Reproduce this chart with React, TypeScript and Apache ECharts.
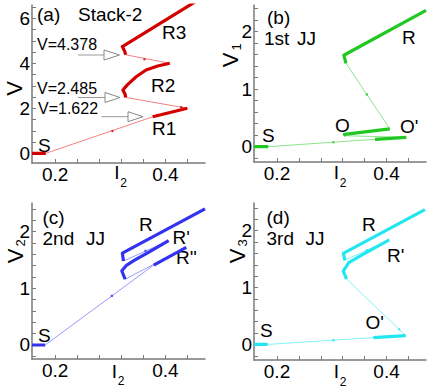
import React, { useEffect, useRef } from "react";
import * as echarts from "echarts";

const FONT = '"Liberation Sans", Arial, Helvetica, sans-serif';

// ---- shared axis data ----
const X_MIN = 0.158;
const X_MAX = 0.472;
const xTicks = [0.2, 0.24, 0.28, 0.32, 0.36, 0.4, 0.44];
const xLabels = [0.2, 0.4];
const aYTicks = [0, 0.5, 1, 1.5, 2, 2.5, 3, 3.5, 4, 4.5, 5, 5.5, 6, 6.5];
const aYLabels = [0, 2, 4, 6];
const jjYTicks = [-0.2, 0, 0.2, 0.4, 0.6, 0.8, 1, 1.2, 1.4, 1.6, 1.8, 2, 2.2, 2.4];
const jjYLabels = [0, 1, 2];

// ---- panel (a): total voltage ----
const aS = [[0.158, 0], [0.183, 0]];
const aR1 = [[0.377, 1.622], [0.44, 2.0]];
const aR2 = [[0.328, 2.485], [0.327, 2.62], [0.323, 2.81], [0.331, 3.04], [0.347, 3.4], [0.365, 3.7], [0.386, 3.88], [0.408, 4.0]];
const aR3 = [[0.328, 4.378], [0.326, 4.55], [0.322, 4.74], [0.472, 7.0]];
const aThin1 = [[0.183, 0], [0.377, 1.622]];
const aThin2 = [[0.44, 2.0], [0.328, 2.485]];
const aThin3 = [[0.408, 4.0], [0.328, 4.378]];
const aDots = [[0.304, 0.99], [0.429, 2.05], [0.362, 4.18]];

// ---- panel (b): 1st JJ ----
const bS = [[0.158, 0], [0.184, 0]];
const bOp = [[0.379, 0.128], [0.436, 0.163]];
const bO = [[0.326, 0.19], [0.323, 0.215], [0.406, 0.31]];
const bR = [[0.326, 1.45], [0.322, 1.59], [0.472, 2.37]];
const bThin1 = [[0.184, 0], [0.379, 0.128]];
const bThin2 = [[0.436, 0.163], [0.326, 0.19]];
const bThin3 = [[0.406, 0.31], [0.326, 1.45]];
const bDots = [[0.303, 0.078], [0.364, 0.91]];

// ---- panel (c): 2nd JJ ----
const cS = [[0.158, 0], [0.182, 0]];
const cRpp = [[0.379, 1.41], [0.438, 1.72]];
const cRp = [[0.327, 1.16], [0.321, 1.31], [0.33, 1.41], [0.345, 1.5], [0.367, 1.62], [0.406, 1.84]];
const cR = [[0.324, 1.48], [0.322, 1.62], [0.472, 2.4]];
const cThin1 = [[0.182, 0], [0.379, 1.41]];
const cThin2 = [[0.438, 1.72], [0.327, 1.16]];
const cThin3 = [[0.406, 1.84], [0.324, 1.48]];
const cDots = [[0.303, 0.866], [0.364, 1.66]];

// ---- panel (d): 3rd JJ ----
const dS = [[0.158, 0], [0.183, 0]];
const dOp = [[0.376, 0.12], [0.435, 0.155]];
const dRp = [[0.327, 1.15], [0.321, 1.29], [0.331, 1.44], [0.356, 1.58], [0.405, 1.84]];
const dR = [[0.324, 1.48], [0.321, 1.6], [0.47, 2.37]];
const dThin1 = [[0.183, 0], [0.376, 0.12]];
const dThin2 = [[0.435, 0.155], [0.327, 1.15]];
const dThin3 = [[0.405, 1.84], [0.324, 1.48]];
const dDots = [[0.303, 0.075], [0.423, 0.266], [0.364, 1.66]];

const COLORS = [
  { thick: "#d40000", thin: "#f27070" },
  { thick: "#22c822", thin: "#80e080" },
  { thick: "#3232f0", thin: "#8c8cff" },
  { thick: "#22e6f0", thin: "#72f0f5" },
];

const PANELS = [
  { thick: [aS, aR1, aR2, aR3], thin: [aThin1, aThin2, aThin3], dots: aDots, y: [-0.43, 6.59], ticks: aYTicks, labels: aYLabels },
  { thick: [bS, bOp, bO, bR], thin: [bThin1, bThin2, bThin3], dots: bDots, y: [-0.266, 2.464], ticks: jjYTicks, labels: jjYLabels },
  { thick: [cS, cRpp, cRp, cR], thin: [cThin1, cThin2, cThin3], dots: cDots, y: [-0.247, 2.504], ticks: jjYTicks, labels: jjYLabels },
  { thick: [dS, dOp, dRp, dR], thin: [dThin1, dThin2, dThin3], dots: dDots, y: [-0.274, 2.487], ticks: jjYTicks, labels: jjYLabels },
];

const GRIDS = [
  { left: 32, top: 5, width: 173, height: 158 },
  { left: 254, top: 5, width: 172, height: 157 },
  { left: 32, top: 203, width: 173, height: 156 },
  { left: 254, top: 203, width: 172, height: 157 },
];

const AXIS_COLOR = "#7a7a7a";

function txt(x: number, y: number, s: string, size = 19, extra: any = {}) {
  return {
    type: "text",
    x,
    y,
    silent: true,
    style: {
      text: s,
      fontSize: size,
      fontFamily: FONT,
      fill: "#000",
      textAlign: extra.align || "left",
      textVerticalAlign: "middle",
    },
  };
}

function rtxt(x: number, y: number, s: string, size: number) {
  return {
    type: "text",
    x,
    y,
    rotation: Math.PI / 2,
    silent: true,
    style: {
      text: s,
      fontSize: size,
      fontFamily: FONT,
      fill: "#000",
      textAlign: "center",
      textVerticalAlign: "middle",
    },
  };
}

function arrow(x1: number, x2: number, x3: number, y: number) {
  return [
    { type: "line", silent: true, shape: { x1, y1: y, x2, y2: y }, style: { stroke: "#999", lineWidth: 1 } },
    {
      type: "polygon",
      silent: true,
      shape: { points: [[x2, y - 5], [x3, y], [x2, y + 5]] },
      style: { fill: "#fff", stroke: "#888", lineWidth: 1 },
    },
  ];
}

export default function App() {
  const ref = useRef<HTMLDivElement>(null);
  useEffect(() => {
    if (!ref.current) return;
    const chart = echarts.init(ref.current, undefined, { renderer: "svg" });

    const xAxis = GRIDS.map((_, i) => ({
      type: "value",
      gridIndex: i,
      min: X_MIN,
      max: X_MAX,
      axisLine: { show: true, onZero: false, lineStyle: { color: AXIS_COLOR, width: 1.5 } },
      axisTick: { show: true, inside: true, length: 4, customValues: xTicks, lineStyle: { color: AXIS_COLOR, width: 1 } },
      axisLabel: {
        show: true,
        customValues: xLabels,
        formatter: (v: number) => v.toFixed(1),
        fontSize: 19,
        fontFamily: FONT,
        color: "#000",
        margin: 2,
      },
      splitLine: { show: false },
    }));

    const yAxis = PANELS.map((p, i) => ({
      type: "value",
      gridIndex: i,
      min: p.y[0],
      max: p.y[1],
      axisLine: { show: true, onZero: false, lineStyle: { color: AXIS_COLOR, width: 1.5 } },
      axisTick: { show: true, inside: true, length: 4, customValues: p.ticks, lineStyle: { color: AXIS_COLOR, width: 1 } },
      axisLabel: {
        show: true,
        customValues: p.labels,
        formatter: (v: number) => String(Math.round(v)),
        fontSize: 19,
        fontFamily: FONT,
        color: "#000",
        margin: 2,
      },
      splitLine: { show: false },
    }));

    const series: any[] = [];
    PANELS.forEach((p, i) => {
      p.thin.forEach((d) =>
        series.push({
          type: "line",
          xAxisIndex: i,
          yAxisIndex: i,
          data: d,
          symbol: "none",
          lineStyle: { color: COLORS[i].thin, width: 0.9 },
          z: 2,
          silent: true,
        })
      );
      p.thick.forEach((d) =>
        series.push({
          type: "line",
          xAxisIndex: i,
          yAxisIndex: i,
          data: d,
          symbol: "none",
          lineStyle: { color: COLORS[i].thick, width: 3.2, cap: "butt", join: "round" },
          z: 3,
          silent: true,
        })
      );
      series.push({
        type: "scatter",
        xAxisIndex: i,
        yAxisIndex: i,
        data: p.dots,
        symbolSize: 2.5,
        itemStyle: { color: COLORS[i].thick },
        z: 4,
        silent: true,
      });
    });

    const graphic: any[] = [
      // panel (a)
      txt(37, 14, "(a)"),
      txt(78, 14, "Stack-2"),
      txt(162, 32, "R3"),
      txt(151, 85, "R2"),
      txt(152, 128, "R1"),
      txt(38, 145, "S"),
      txt(37, 44, "V=4.378", 16),
      txt(37, 88.5, "V=2.485", 16),
      txt(38, 108.5, "V=1.622", 16),
      ...arrow(78, 104, 119.5, 55),
      ...arrow(78, 105, 120, 97.5),
      ...arrow(101.5, 128, 143, 116.7),
      rtxt(14.5, 88.5, "V", 22),
      txt(117, 172.5, "I", 19, { align: "center" }),
      txt(120.3, 183, "2", 12),
      // panel (b)
      txt(267, 17, "(b)"),
      txt(264, 38.5, "1st"),
      txt(297, 38.5, "JJ"),
      txt(402, 37, "R"),
      txt(335, 125, "O"),
      txt(400, 126, "O'"),
      txt(262, 135, "S"),
      rtxt(230, 60, "V", 22),
      rtxt(236, 47, "1", 13),
      txt(336.5, 172.5, "I", 19, { align: "center" }),
      txt(339.8, 183, "2", 12),
      // panel (c)
      txt(42.5, 217, "(c)"),
      txt(42.5, 238.5, "2nd"),
      txt(86, 238.5, "JJ"),
      txt(139, 224.5, "R"),
      txt(172.5, 237, "R'"),
      txt(176, 257, "R''"),
      txt(38, 335, "S"),
      rtxt(15, 256, "V", 22),
      rtxt(20.5, 243, "2", 13),
      txt(114.5, 371, "I", 19, { align: "center" }),
      txt(117.8, 381, "2", 12),
      // panel (d)
      txt(266.5, 217, "(d)"),
      txt(266.5, 238.5, "3rd"),
      txt(305.5, 238.5, "JJ"),
      txt(362, 224.5, "R"),
      txt(387, 255, "R'"),
      txt(365.5, 322, "O'"),
      txt(260, 330, "S"),
      rtxt(237, 256, "V", 22),
      rtxt(242.5, 243, "3", 13),
      txt(336.5, 371.5, "I", 19, { align: "center" }),
      txt(339.8, 381.5, "2", 12),
    ];

    chart.setOption({
      animation: false,
      backgroundColor: "#fff",
      grid: GRIDS.map((g) => ({ ...g, containLabel: false, show: false })),
      xAxis,
      yAxis,
      series,
      graphic,
    });
    return () => chart.dispose();
  }, []);

  return (
    <div
      ref={ref}
      style={{ position: "fixed", left: 0, top: 0, width: 436, height: 390, background: "#fff" }}
    />
  );
}
